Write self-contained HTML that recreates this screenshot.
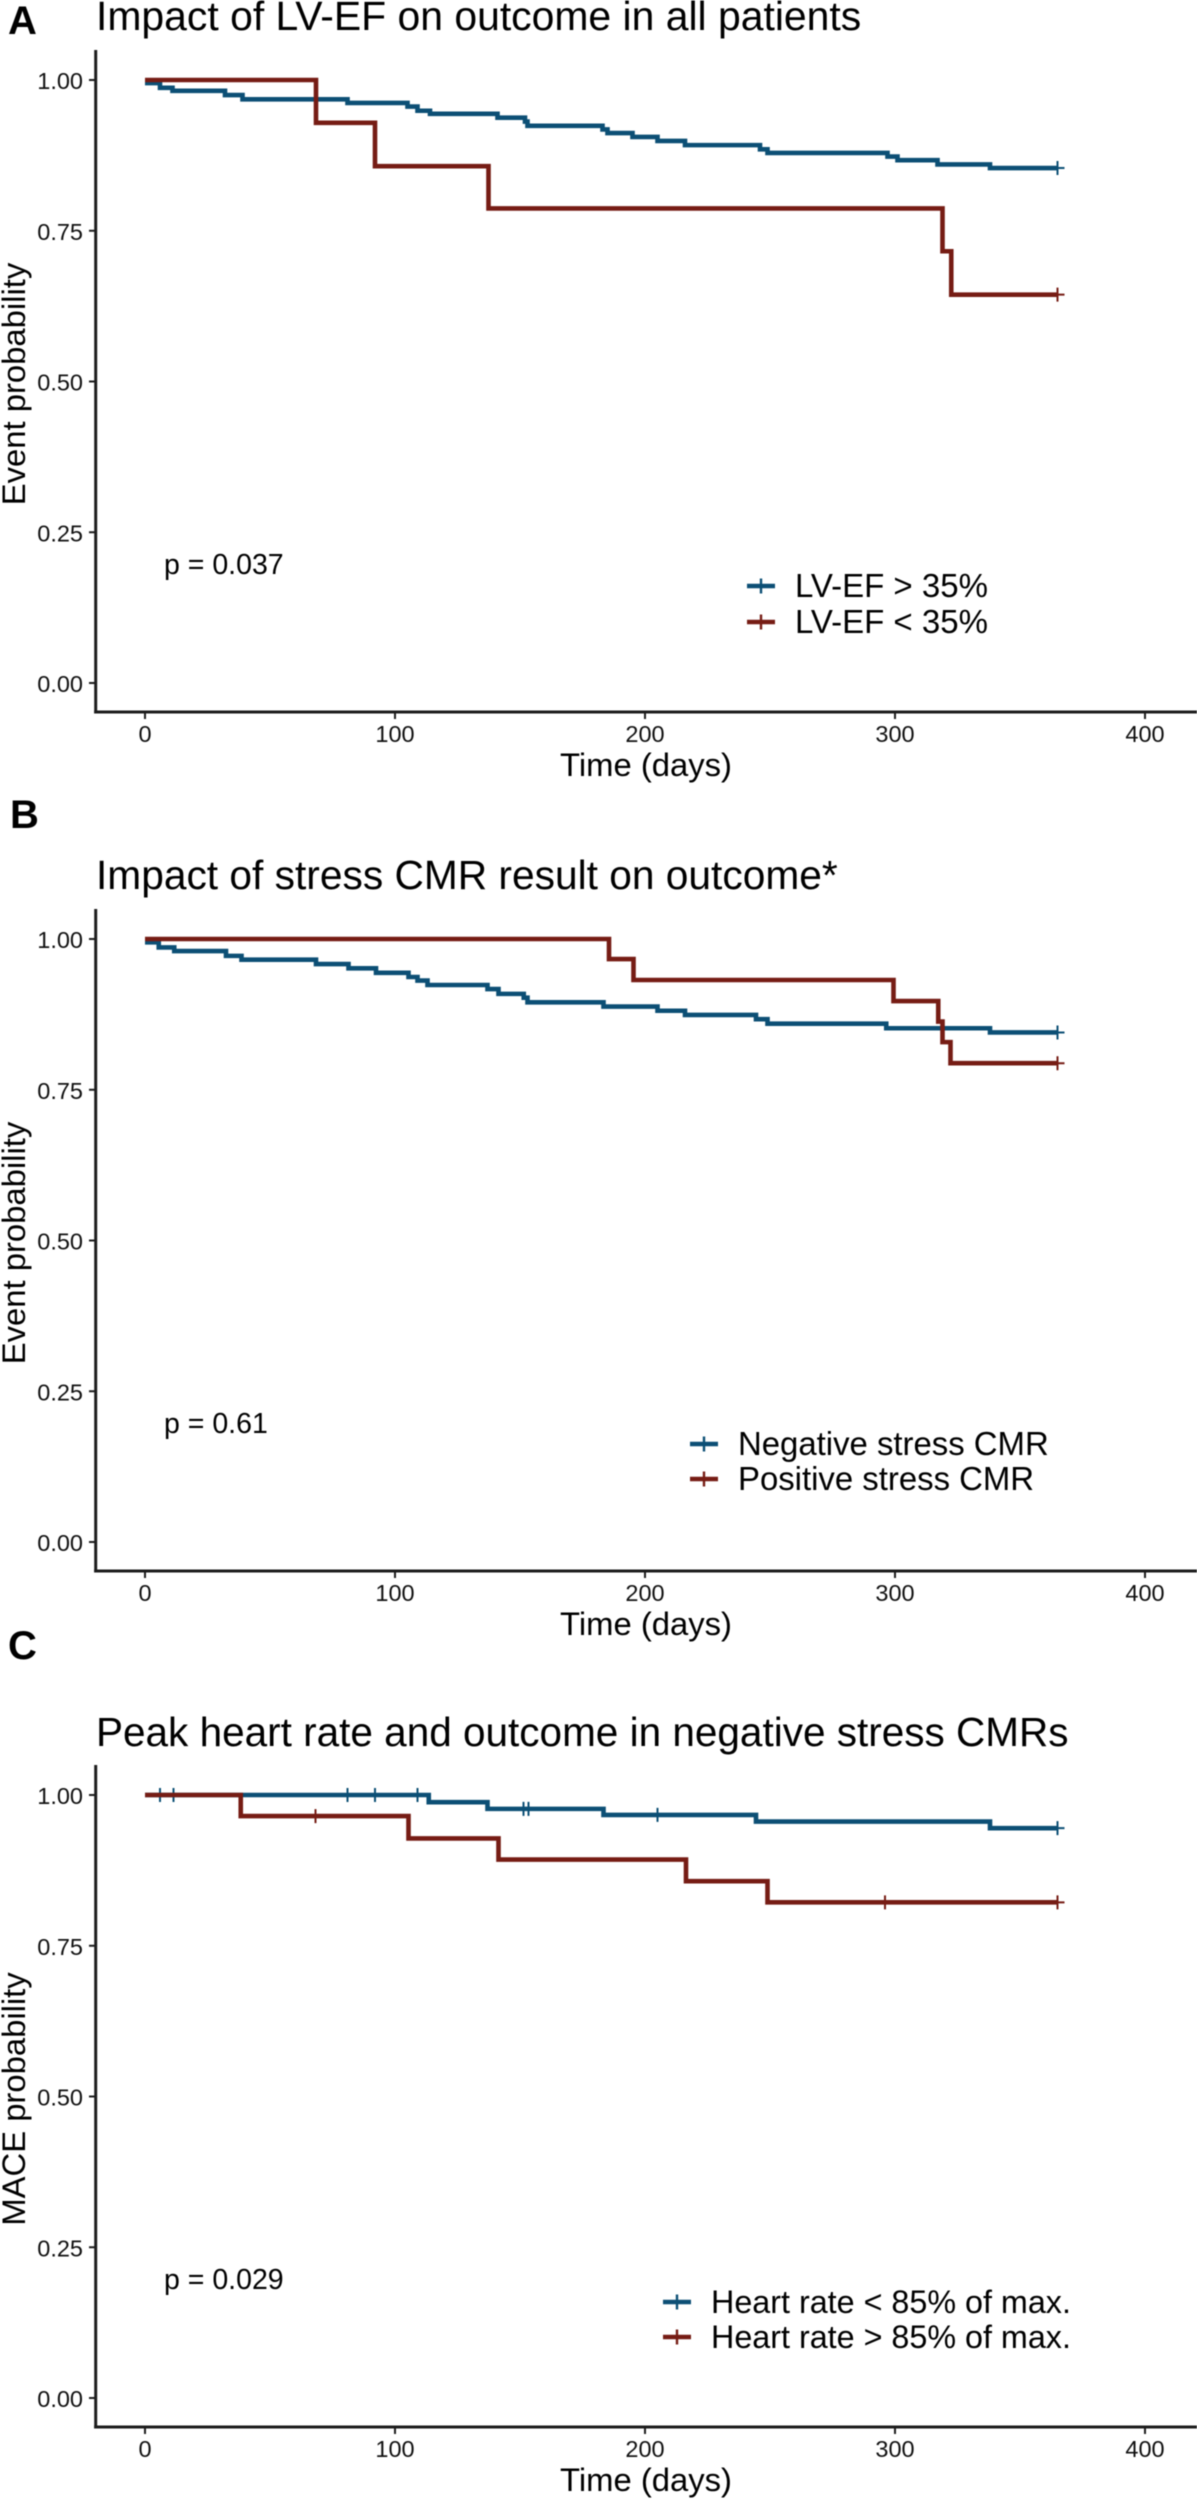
<!DOCTYPE html>
<html lang="en">
<head>
<meta charset="utf-8">
<title>Kaplan-Meier outcome charts</title>
<style>
  html, body { margin: 0; padding: 0; background: #fff; }
  body { width: 1197px; height: 2500px; overflow: hidden; }
  svg { display: block; filter: blur(0.45px); font-family: "Liberation Sans", Arial, sans-serif; }
  .title { font-size: 40.7px; fill: #000; }
  .letter { font-size: 40px; font-weight: bold; fill: #000; }
  .axis-title { font-size: 32.8px; fill: #000; }
  .tick-label { font-size: 23.5px; fill: #111; }
  .p-value { font-size: 28.5px; fill: #000; }
  .legend-text { font-size: 32.7px; fill: #000; }
</style>
</head>
<body>
<svg id="chart" xmlns="http://www.w3.org/2000/svg" width="1197" height="2500" viewBox="0 0 1197 2500">
  <rect x="0" y="0" width="1197" height="2500" fill="#fff"/>

  <g id="panel-a" transform="translate(0,0)">
    <text class="letter" x="8" y="34">A</text>
    <text class="title" style="font-size:40.9px" x="96" y="30">Impact of LV-EF on outcome in all patients</text>
    <text class="axis-title" text-anchor="middle" transform="translate(25,384) rotate(-90)">Event probability</text>
    <text class="axis-title" text-anchor="middle" x="646" y="776">Time (days)</text>
    <text class="p-value" x="164" y="574">p = 0.037</text>
    <text class="legend-text" style="font-size:33px" x="795" y="597">LV-EF &gt; 35%</text>
    <text class="legend-text" style="font-size:33px" x="795" y="633">LV-EF &lt; 35%</text>
  </g>

  <g id="panel-b" transform="translate(0,859)">
    <text class="letter" x="10" y="-31">B</text>
    <text class="title" x="96" y="30">Impact of stress CMR result on outcome*</text>
    <text class="axis-title" text-anchor="middle" transform="translate(25,384) rotate(-90)">Event probability</text>
    <text class="axis-title" text-anchor="middle" x="646" y="776">Time (days)</text>
    <text class="p-value" x="164" y="574">p = 0.61</text>
    <text class="legend-text" style="font-size:32.9px" x="738" y="596">Negative stress CMR</text>
    <text class="legend-text" style="font-size:32.9px" x="738" y="631">Positive stress CMR</text>
  </g>

  <g id="panel-c" transform="translate(0,1715)">
    <text class="letter" x="8" y="-56">C</text>
    <text class="title" style="font-size:40.5px" x="96" y="31">Peak heart rate and outcome in negative stress CMRs</text>
    <text class="axis-title" text-anchor="middle" transform="translate(25,384) rotate(-90)">MACE probability</text>
    <text class="axis-title" text-anchor="middle" x="646" y="776">Time (days)</text>
    <text class="p-value" x="164" y="574">p = 0.029</text>
    <text class="legend-text" style="font-size:32.3px" x="711" y="598">Heart rate &lt; 85% of max.</text>
    <text class="legend-text" style="font-size:32.3px" x="711" y="633">Heart rate &gt; 85% of max.</text>
  </g>
</svg>

<script>
// Shared axis labels
const xTicks = [0, 100, 200, 300, 400];
const yTicks = [0, 0.25, 0.5, 0.75, 1];
const yTickLabels = ["0.00", "0.25", "0.50", "0.75", "1.00"];
const followUpEnd = 365;

// Panel A: LV-EF
const aBlueTimes = [0, 6, 11, 32, 39, 81, 105, 109, 114, 141, 152, 153, 183, 185, 195, 205, 216, 246, 249, 297, 301, 317, 338];
const aBlueProb = [0.995, 0.987, 0.982, 0.975, 0.968, 0.962, 0.956, 0.949, 0.944, 0.9375, 0.931, 0.924, 0.918, 0.912, 0.9055, 0.899, 0.892, 0.885, 0.879, 0.873, 0.867, 0.86, 0.854];
const aBlueCensored = [365];
const aRedTimes = [0, 68.4, 92, 137.4, 319, 322.5];
const aRedProb = [1, 0.929, 0.857, 0.787, 0.716, 0.644];
const aRedCensored = [365];

// Panel B: stress CMR result
const bBlueTimes = [0, 5.5, 11.7, 32.4, 38.6, 68.4, 81.4, 92.4, 105.4, 109, 113, 137, 141.4, 151.5, 153, 183.4, 205, 216, 244.4, 249, 296.5, 338];
const bBlueProb = [0.9945, 0.986, 0.98, 0.972, 0.9657, 0.9585, 0.9514, 0.944, 0.937, 0.931, 0.9237, 0.917, 0.909, 0.9027, 0.895, 0.888, 0.881, 0.874, 0.867, 0.8595, 0.852, 0.845];
const bBlueCensored = [365];
const bRedTimes = [0, 185.6, 195.4, 299.4, 317.3, 319, 322.2];
const bRedProb = [1, 0.9668, 0.932, 0.897, 0.863, 0.829, 0.794];
const bRedCensored = [365];

// Panel C: peak heart rate
const cBlueTimes = [0, 113.5, 137, 183.4, 244.4, 338];
const cBlueProb = [1, 0.988, 0.977, 0.967, 0.956, 0.945];
const cBlueCensored = [6, 11.4, 81, 92, 109, 151.4, 153.4, 205, 365];
const cRedTimes = [0, 38.3, 105.4, 141.4, 216.4, 249];
const cRedProb = [1, 0.965, 0.928, 0.893, 0.857, 0.822];
const cRedCensored = [68.2, 296, 365];

// Axis functions (shared pixel scales, within a panel's local coordinates)
function xScale(t) { return 145 + 2.5 * t; }
function yScale(v) { return 683 - 603 * v; }

const SVG_NS = "http://www.w3.org/2000/svg";
const BLUE = "#0c4f75";
const RED = "#761c14";
const AXIS = "#1c1c1c";

function make(parent, tag, attrs) {
  const el = document.createElementNS(SVG_NS, tag);
  for (const k in attrs) el.setAttribute(k, attrs[k]);
  parent.appendChild(el);
  return el;
}

function stepPath(times, probs) {
  let d = "M" + xScale(times[0]) + " " + yScale(probs[0]);
  for (let i = 1; i < times.length; i++) {
    d += "H" + xScale(times[i]) + "V" + yScale(probs[i]);
  }
  return d + "H" + xScale(followUpEnd);
}

function probAt(times, probs, t) {
  let v = probs[0];
  for (let i = 0; i < times.length; i++) {
    if (times[i] <= t) v = probs[i];
  }
  return v;
}

function drawAxes(group, id) {
  const yLine = make(group, "line", { x1: 95.7, x2: 95.7, y1: 50, y2: 713.5, stroke: AXIS, "stroke-width": 3 });
  
  
  const xLine = make(group, "line", { x1: 94.2, x2: 1197, y1: 712, y2: 712, stroke: AXIS, "stroke-width": 3 });
  
  

  xTicks.forEach(function (t) {
    const tick = make(group, "line", { x1: xScale(t), x2: xScale(t), y1: 712, y2: 719, stroke: AXIS, "stroke-width": 2 });
    
    
    const label = make(group, "text", { x: xScale(t), y: 742, "text-anchor": "middle", "class": "tick-label" });
    label.textContent = String(t);
    
    
  });

  yTicks.forEach(function (v, i) {
    const tick = make(group, "line", { x1: 89, x2: 95.7, y1: yScale(v), y2: yScale(v), stroke: AXIS, "stroke-width": 2 });
    
    
    const label = make(group, "text", { x: 83, y: yScale(v) + 9, "text-anchor": "end", "class": "tick-label" });
    label.textContent = yTickLabels[i];
    
    
  });
}

function drawSeries(group, id, seriesName, color, times, probs, censored) {
  const line = make(group, "path", { d: stepPath(times, probs), fill: "none", stroke: color, "stroke-width": 4.6, "stroke-linejoin": "miter" });
  
  

  censored.forEach(function (t) {
    const cx = xScale(t);
    const cy = yScale(probAt(times, probs, t));
    const mark = make(group, "path", {
      d: "M" + (cx - 7) + " " + cy + "H" + (cx + 7) + "M" + cx + " " + (cy - 7) + "V" + (cy + 7),
      fill: "none", stroke: color, "stroke-width": 2
    });
    
    
  });
}

function drawLegendKey(group, id, seriesName, color, x0, cy) {
  const key = make(group, "path", {
    d: "M" + x0 + " " + cy + "H" + (x0 + 28),
    fill: "none", stroke: color, "stroke-width": 4.4
  });
  
  
  const cross = make(group, "path", {
    d: "M" + (x0 + 14) + " " + (cy - 7.5) + "V" + (cy + 7.5),
    fill: "none", stroke: color, "stroke-width": 2.4
  });
  
  
}

const panelA = document.getElementById("panel-a");
drawAxes(panelA, "panel-a");
drawSeries(panelA, "panel-a", "blue", BLUE, aBlueTimes, aBlueProb, aBlueCensored);
drawSeries(panelA, "panel-a", "red", RED, aRedTimes, aRedProb, aRedCensored);
drawLegendKey(panelA, "panel-a", "blue", BLUE, 747, 586);
drawLegendKey(panelA, "panel-a", "red", RED, 747, 622);

const panelB = document.getElementById("panel-b");
drawAxes(panelB, "panel-b");
drawSeries(panelB, "panel-b", "blue", BLUE, bBlueTimes, bBlueProb, bBlueCensored);
drawSeries(panelB, "panel-b", "red", RED, bRedTimes, bRedProb, bRedCensored);
drawLegendKey(panelB, "panel-b", "blue", BLUE, 690, 585);
drawLegendKey(panelB, "panel-b", "red", RED, 690, 620);

const panelC = document.getElementById("panel-c");
drawAxes(panelC, "panel-c");
drawSeries(panelC, "panel-c", "blue", BLUE, cBlueTimes, cBlueProb, cBlueCensored);
drawSeries(panelC, "panel-c", "red", RED, cRedTimes, cRedProb, cRedCensored);
drawLegendKey(panelC, "panel-c", "blue", BLUE, 663, 587);
drawLegendKey(panelC, "panel-c", "red", RED, 663, 622);
</script>
</body>
</html>
